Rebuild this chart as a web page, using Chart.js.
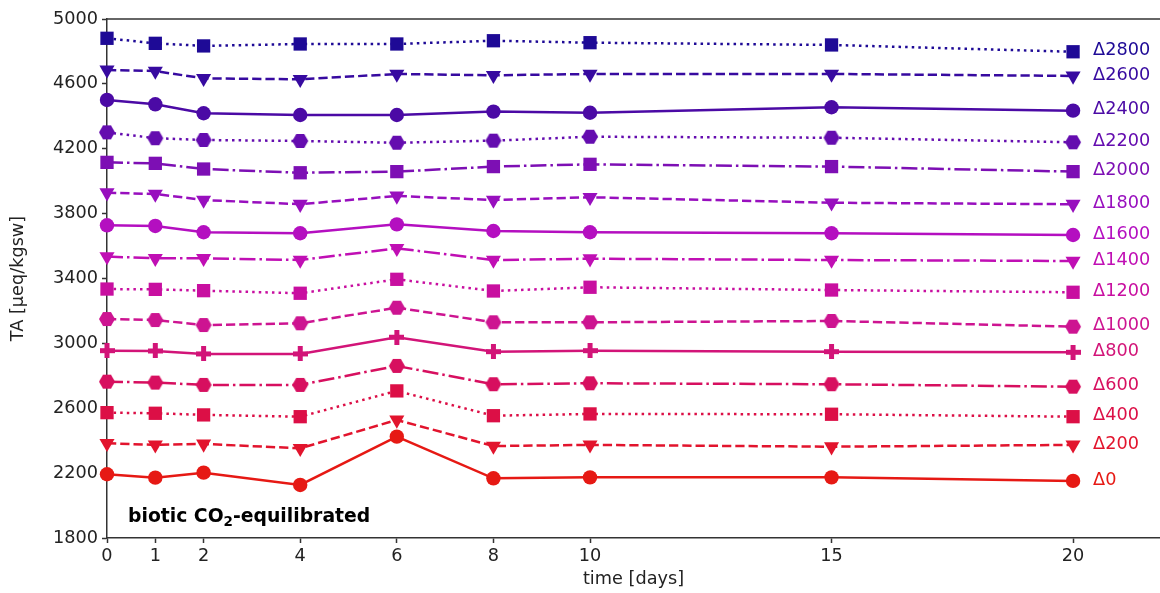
<!DOCTYPE html>
<html>
<head>
<meta charset="utf-8">
<script src="https://cdn.jsdelivr.net/npm/chart.js@4"></script>
<style>
  html, body { margin: 0; padding: 0; background: #fff; }
  canvas { display: block; }
</style>
</head>
<body>
<canvas id="c" width="1160" height="593"></canvas>
<script>
// ---- data ----
const days = [0, 1, 2, 4, 6, 8, 10, 15, 20];
const xTickValues = [0, 1, 2, 4, 6, 8, 10, 15, 20];
const seriesNames = ['Δ0','Δ200','Δ400','Δ600','Δ800','Δ1000','Δ1200','Δ1400','Δ1600','Δ1800','Δ2000','Δ2200','Δ2400','Δ2600','Δ2800'];
const d0    = [2193, 2172, 2203, 2127, 2425, 2168, 2174, 2174, 2152];
const d200  = [2384, 2374, 2380, 2353, 2528, 2367, 2374, 2363, 2374];
const d400  = [2573, 2569, 2559, 2548, 2707, 2554, 2565, 2563, 2548];
const d600  = [2764, 2758, 2744, 2744, 2861, 2748, 2754, 2748, 2733];
const d800  = [2955, 2953, 2935, 2935, 3038, 2949, 2955, 2949, 2945];
const d1000 = [3150, 3144, 3113, 3124, 3220, 3130, 3130, 3138, 3103];
const d1200 = [3335, 3333, 3325, 3309, 3395, 3323, 3346, 3329, 3315];
const d1400 = [3535, 3525, 3525, 3514, 3586, 3514, 3522, 3514, 3508];
const d1600 = [3728, 3724, 3685, 3679, 3734, 3693, 3685, 3679, 3668];
const d1800 = [3929, 3921, 3884, 3858, 3909, 3884, 3901, 3867, 3858];
const d2000 = [4116, 4110, 4075, 4052, 4059, 4090, 4104, 4090, 4059];
const d2200 = [4301, 4265, 4254, 4248, 4237, 4250, 4274, 4268, 4240];
const d2400 = [4501, 4474, 4419, 4408, 4408, 4429, 4422, 4456, 4435];
const d2600 = [4686, 4679, 4634, 4628, 4661, 4653, 4661, 4661, 4649];
const d2800 = [4881, 4850, 4834, 4846, 4846, 4866, 4854, 4840, 4798];
const seriesValues = [d0, d200, d400, d600, d800, d1000, d1200, d1400, d1600, d1800, d2000, d2200, d2400, d2600, d2800];

// ---- styles ----
const colors = [
  'rgb(230,25,20)', 'rgb(226,20,45)', 'rgb(220,15,70)', 'rgb(215,15,95)', 'rgb(210,20,120)',
  'rgb(205,20,145)', 'rgb(200,15,160)', 'rgb(192,15,180)', 'rgb(180,15,192)', 'rgb(152,15,190)',
  'rgb(125,15,180)', 'rgb(100,12,175)', 'rgb(75,10,165)', 'rgb(55,10,160)', 'rgb(30,10,150)'
];
const markers = ['o','v','s','h','P','h','s','v','o','v','s','h','o','v','s'];
const lines   = ['solid','dashed','dotted','dashdot','solid','dashed','dotted','dashdot','solid','dashed','dashdot','dotted','solid','dashed','dotted'];
const LW = 2.5;
const dashMap = {
  solid: [],
  dashed: [9.25, 4],
  dotted: [2.5, 4.1],
  dashdot: [16, 4, 2.5, 4]
};

function hexCanvas(color, r) {
  const s = Math.ceil(2 * r + 2);
  const c = document.createElement('canvas');
  c.width = s; c.height = s;
  const ctx = c.getContext('2d');
  ctx.fillStyle = color;
  ctx.beginPath();
  for (let i = 0; i < 6; i++) {
    const a = Math.PI / 3 * i;
    const x = s / 2 + r * Math.cos(a), y = s / 2 + r * Math.sin(a);
    if (i === 0) ctx.moveTo(x, y); else ctx.lineTo(x, y);
  }
  ctx.closePath();
  ctx.fill();
  return c;
}
function plusCanvas(color, size) {
  const c = document.createElement('canvas');
  c.width = size; c.height = size;
  const ctx = c.getContext('2d');
  ctx.fillStyle = color;
  const t = size / 3;
  ctx.fillRect(t, 0, t, size);
  ctx.fillRect(0, t, size, t);
  return c;
}

function markerProps(m, color) {
  switch (m) {
    case 'o': return { pointStyle: 'circle', pointRadius: 7.2, pointRotation: 0 };
    case 's': return { pointStyle: 'rect', pointRadius: 9.4, pointRotation: 0 };
    case 'v': return { pointStyle: 'triangle', pointRadius: 8.7, pointRotation: 180 };
    case 'h': return { pointStyle: hexCanvas(color, 8), pointRadius: 8, pointRotation: 0 };
    case 'P': return { pointStyle: plusCanvas(color, 15), pointRadius: 8, pointRotation: 0 };
  }
}

const datasets = seriesValues.map((vals, i) => Object.assign({
  label: seriesNames[i],
  data: days.map((d, j) => ({ x: d, y: vals[j] })),
  borderColor: colors[i],
  backgroundColor: colors[i],
  pointBackgroundColor: colors[i],
  pointBorderColor: colors[i],
  pointBorderWidth: 0,
  borderWidth: LW,
  borderDash: dashMap[lines[i]],
  borderCapStyle: 'butt',
  tension: 0,
  fill: false,
  clip: false
}, markerProps(markers[i], colors[i])));

// ---- plugins ----
const extras = {
  id: 'extras',
  afterDatasetsDraw(chart) {
    const { ctx, chartArea, scales } = chart;
    const xs = scales.x, ys = scales.y;
    ctx.save();
    // top spine
    ctx.strokeStyle = '#333';
    ctx.lineWidth = 1.5;
    ctx.beginPath();
    ctx.moveTo(chartArea.left, chartArea.top);
    ctx.lineTo(chartArea.right, chartArea.top);
    ctx.stroke();
    // right-side series labels
    ctx.font = '17.7px "DejaVu Sans"';
    ctx.textAlign = 'left';
    ctx.textBaseline = 'middle';
    seriesValues.forEach((vals, i) => {
      const last = vals.length - 1;
      ctx.fillStyle = colors[i];
      ctx.fillText(seriesNames[i], xs.getPixelForValue(days[last]) + 20, ys.getPixelForValue(vals[last]) - 1);
    });
    // annotation: "biotic CO2-equilibrated" with subscript 2
    ctx.fillStyle = '#000';
    ctx.textBaseline = 'alphabetic';
    let x = chartArea.left + 21;
    const base = chartArea.bottom - 16;
    const part1 = 'biotic CO', part2 = '2', part3 = '-equilibrated';
    ctx.font = 'bold 18.8px "DejaVu Sans"';
    ctx.fillText(part1, x, base);
    x += ctx.measureText(part1).width;
    ctx.font = 'bold 13.5px "DejaVu Sans"';
    ctx.fillText(part2, x, base + 3.5);
    x += ctx.measureText(part2).width;
    ctx.font = 'bold 18.8px "DejaVu Sans"';
    ctx.fillText(part3, x, base);
    ctx.restore();
  }
};

Chart.defaults.font.family = '"DejaVu Sans", sans-serif';
Chart.defaults.font.size = 17.7;
Chart.defaults.color = '#222';

new Chart(document.getElementById('c'), {
  type: 'line',
  data: { datasets },
  options: {
    responsive: false,
    animation: false,
    devicePixelRatio: 1,
    layout: { autoPadding: false, padding: { top: 19, right: 0, left: 0, bottom: 0 } },
    plugins: { legend: { display: false }, tooltip: { enabled: false } },
    scales: {
      x: {
        type: 'linear',
        min: 0,
        max: 21.8,
        afterBuildTicks(scale) { scale.ticks = xTickValues.map(v => ({ value: v })); },
        afterFit(scale) { scale.height = 55; scale.paddingRight = 0; scale.paddingLeft = 0; },
        ticks: { padding: 3, color: '#222', font: { size: 17.7 }, callback: v => String(v) },
        grid: { display: true, drawOnChartArea: false, drawTicks: true, tickLength: 5, tickColor: '#333', tickWidth: 1.5 },
        border: { display: true, color: '#333', width: 1.5 },
        title: { display: true, text: 'time [days]', color: '#222', font: { size: 17.7 }, padding: { top: 0, bottom: 2.5 } }
      },
      y: {
        type: 'linear',
        min: 1800,
        max: 5000,
        ticks: { stepSize: 400, padding: 4, color: '#222', font: { size: 17.7 }, callback: v => String(v) },
        afterFit(scale) { scale.width = 107; },
        grid: { display: true, drawOnChartArea: false, drawTicks: true, tickLength: 5, tickColor: '#333', tickWidth: 1.5 },
        border: { display: true, color: '#333', width: 1.5 },
        title: { display: true, text: 'TA [µeq/kgsw]', color: '#222', font: { size: 17.7 }, padding: { top: 7.5, bottom: 0 } }
      }
    }
  },
  plugins: [extras]
});
</script>
</body>
</html>
